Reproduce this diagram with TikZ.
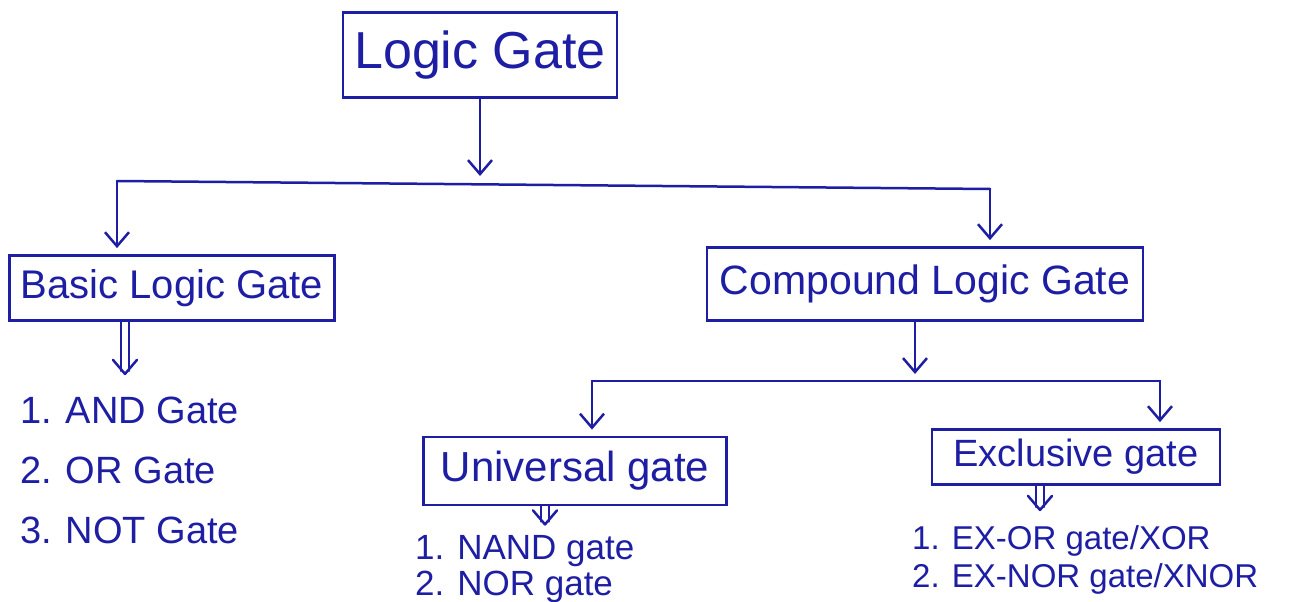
\documentclass[tikz,border=0pt]{standalone}
\usepackage{fontspec}
\setmainfont{Liberation Sans}
\usetikzlibrary{arrows.meta,calc}
\definecolor{ink}{RGB}{30,30,165}
\newcommand\dblarr[2]{%
  \draw[ln] ($(#1)+(-4,0)$) -- ($(#1)+(-4,#2-3)$);
  \draw[ln] ($(#1)+(4,0)$) -- ($(#1)+(4,#2-3)$);
  \draw[ln] ($(#1)+(-12,#2-14)$) -- ($(#1)+(0,#2)$) -- ($(#1)+(12,#2-14)$);}
\begin{document}
\begin{tikzpicture}[x=1pt,y=-1pt,
  box/.style={draw=ink, line width=2.8pt, text=ink, inner sep=0pt, align=center},
  ln/.style={draw=ink, line width=2.5pt, line cap=round, line join=round},
  arr/.style={ln, -{Straight Barb[length=14pt,width=24pt]}},
  item/.style={text=ink, anchor=west, inner sep=0pt}]
\useasboundingbox[fill=white] (0,0) rectangle (1298,602);

% boxes
\node[box, minimum width=274, minimum height=85, font=\fontsize{52}{60}\selectfont] (lg) at (480,55) {Logic Gate};
\node[box, minimum width=325, minimum height=65, font=\fontsize{40}{48}\selectfont] (bas) at (172,288) {Basic Logic Gate};
\node[box, minimum width=436, minimum height=73, font=\fontsize{41}{48}\selectfont] (cmp) at (925,284) {Compound Logic Gate};
\node[box, minimum width=303, minimum height=68, font=\fontsize{42}{48}\selectfont] (uni) at (575,471) {Universal gate};
\node[box, minimum width=288, minimum height=55, font=\fontsize{38}{44}\selectfont] (exc) at (1076,457) {Exclusive gate};

% lists
\node[item, font=\fontsize{38}{44}\selectfont] (b1) at (20,410) {1. AND Gate};
\node[item, font=\fontsize{38}{44}\selectfont] (b2) at (20,470) {2. OR Gate};
\node[item, font=\fontsize{38}{44}\selectfont] (b3) at (20,530) {3. NOT Gate};
\node[item, font=\fontsize{35}{40}\selectfont] (u1) at (415,551) {1. NAND gate};
\node[item, font=\fontsize{35}{40}\selectfont] (u2) at (415,587) {2. NOR gate};
\node[item, font=\fontsize{33}{38}\selectfont] (e1) at (912,541) {1. EX-OR gate/XOR};
\node[item, font=\fontsize{33}{38}\selectfont] (e2) at (912,579) {2. EX-NOR gate/XNOR};

% top level connectors
\coordinate (hm) at (480,176);
\coordinate (hl) at (117,181);
\coordinate (hr) at (990,189);
\draw[arr] (lg.south) -- (lg.south |- hm);
\draw[ln] (hl) -- (hr);
\draw[arr] (hl) -- ($(hl |- bas.north)+(0,-6)$);
\draw[arr] (hr) -- ($(hr |- cmp.north)+(0,-6)$);

% compound connectors
\coordinate (cs) at ($(cmp.south)+(-10,0)$);
\coordinate (cm) at (915,374);
\coordinate (cl) at (592,381);
\coordinate (cr) at (1160,381);
\draw[arr] (cs) -- (cm);
\draw[ln] (cl) -- (cr);
\draw[arr] (cl) -- ($(cl |- uni.north)+(0,-6)$);
\draw[arr] (cr) -- ($(cr |- exc.north)+(0,-6)$);

% double arrows to lists
\coordinate (bd) at ($(bas.south)+(-47,0)$);
\coordinate (ud) at ($(uni.south)+(-30,0)$);
\coordinate (ed) at ($(exc.south)+(-36,0)$);
\dblarr{bd}{52}
\dblarr{ud}{18}
\dblarr{ed}{24}
\end{tikzpicture}
\end{document}
